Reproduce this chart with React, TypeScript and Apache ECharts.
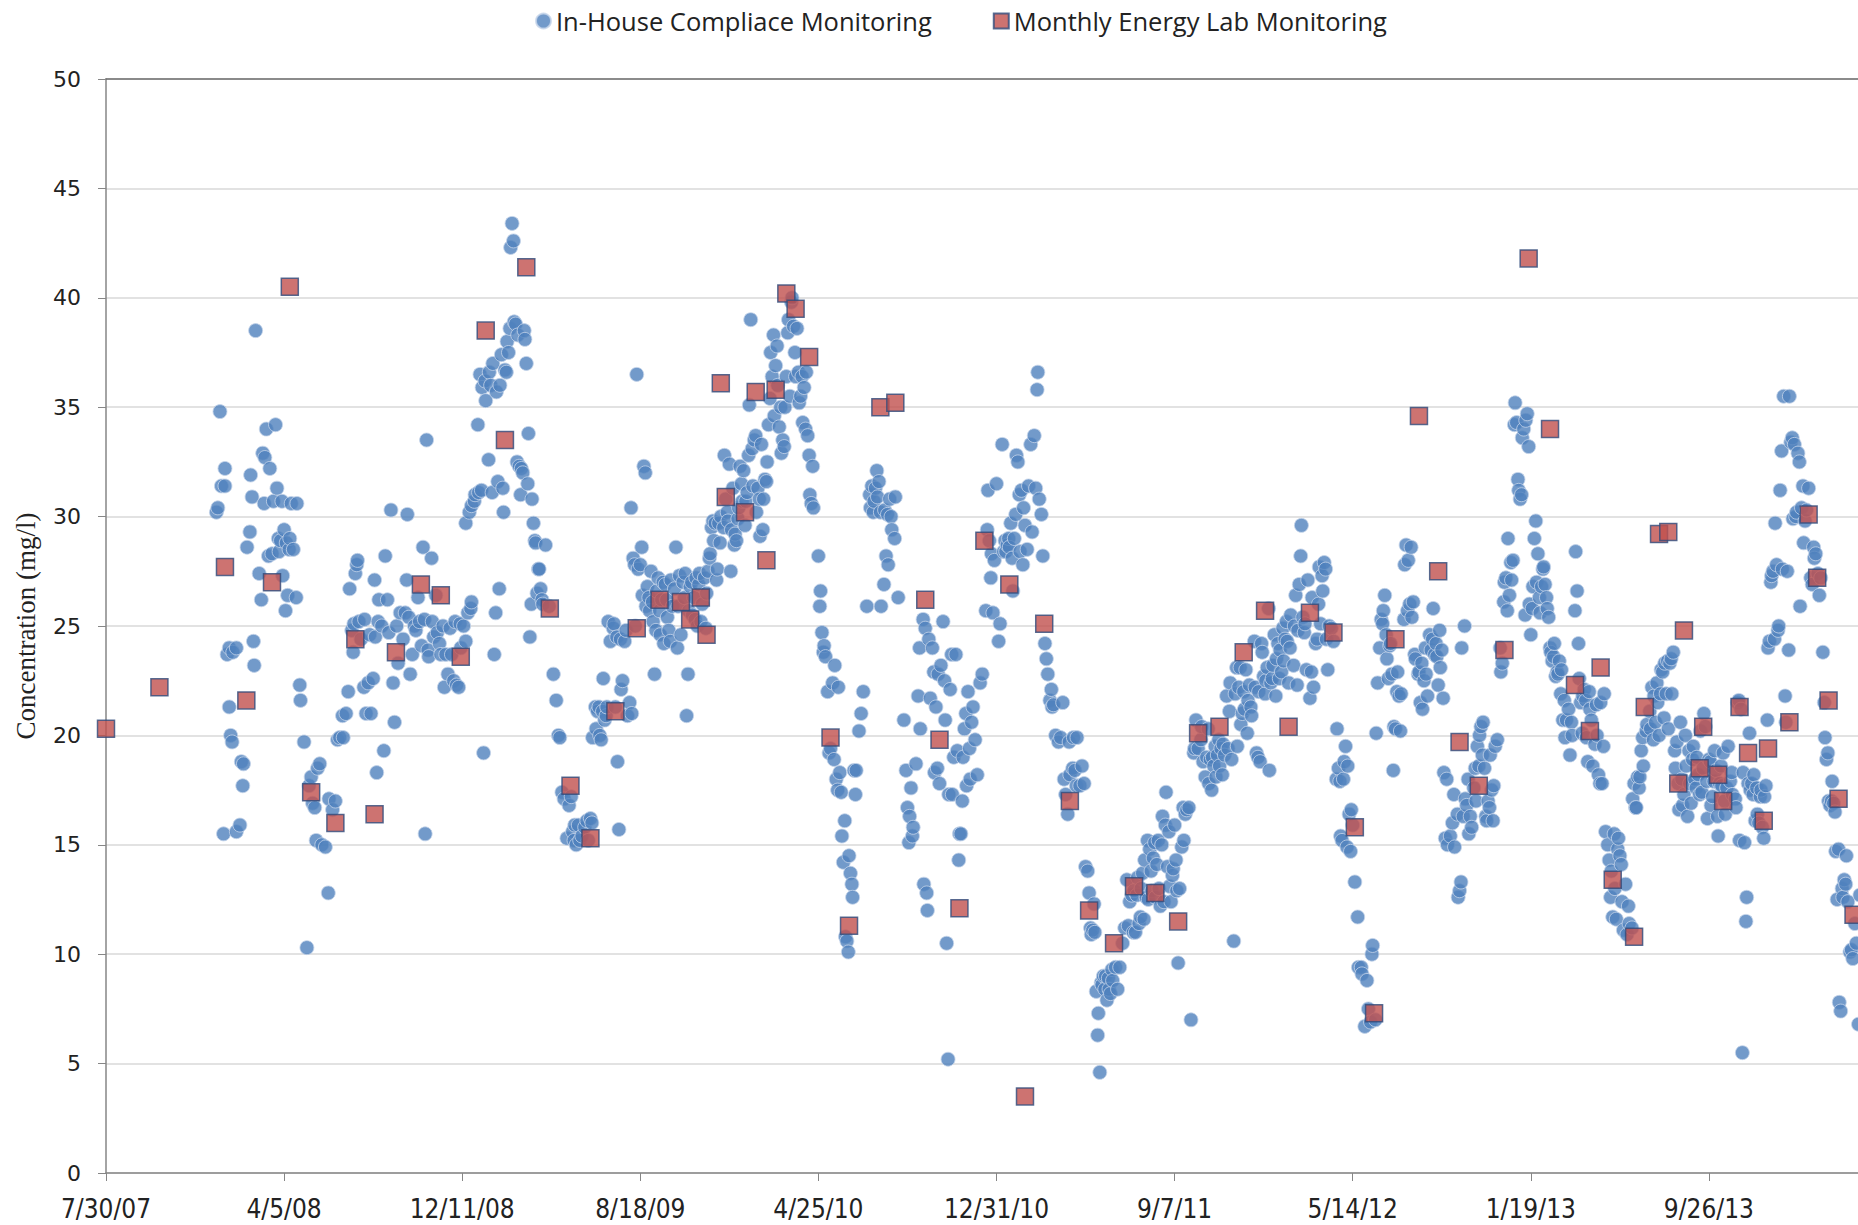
import React, { useEffect, useRef } from "react";
import * as echarts from "echarts";

// x values are days since 7/30/07, y values are concentration (mg/l)
const START_DATE = Date.UTC(2007, 6, 30);
const X_MIN = 0;
const X_MAX = 2500;
const X_STEP = 250;
const Y_MIN = 0;
const Y_MAX = 50;
const Y_STEP = 5;

const seriesNames = ["In-House Compliace Monitoring", "Monthly Energy Lab Monitoring"];

const inHouse2008 = [
  [155,30.2],[157,30.4],[160,34.8],[162,31.4],[167,31.4],[167,32.2],[165,15.5],[170,23.7],[173,24.0],[173,21.3],[175,20.0],[177,19.7],[178,23.8],[183,24.0],[183,15.6],[188,15.9],[190,18.8],[192,17.7],[193,18.7],[198,28.6],[202,29.3],[203,31.9],[205,30.9],[207,24.3],[208,23.2],[210,38.5],[215,27.4],[218,26.2],[220,32.9],[222,30.6],[223,32.7],[225,34.0],[228,28.2],[230,32.2],[233,28.3],[235,30.7],[238,34.2],[240,31.3],[242,29.0],[243,28.4],[245,28.9],[247,30.7],[248,27.3],[250,29.4],[252,25.7],[253,28.8],[255,26.4],[257,28.5],[258,29.0],[260,30.6],[263,28.5],[267,26.3],[268,30.6],
  [272,22.3],[273,21.6],[278,19.7],[282,10.3],[285,17.7],[288,18.1],[290,16.9],[293,16.7],[295,15.2],[297,18.5],[300,18.7],[303,15.0],[308,14.9],[312,12.8],[313,17.1],[318,16.6],[322,17.0],[325,19.8],[328,19.9],[332,20.9],[333,19.9],[337,21.0],[340,22.0],[342,26.7],[345,24.8],[347,23.8],[348,25.1],[350,27.4],[352,27.8],[353,28.0],[355,25.2],[358,24.4],[362,22.2],[363,25.3],[365,21.0],[368,22.4],[370,24.6],[372,21.0],[375,22.6],[377,27.1],[378,24.5],[380,18.3],[382,25.2],[383,26.2],[387,25.0],[390,19.3],[392,28.2],[395,26.2],[397,24.7],[400,30.3],[403,22.4],[405,20.6],[408,25.0],[410,23.3],[413,25.6],[417,24.4],[420,25.6],[422,27.1],[423,30.1],[425,25.4],[427,22.8],[430,23.7],[433,25.0],[435,24.8],[438,26.3],[440,25.2],[443,24.1],[445,28.6],[447,25.3],[448,15.5],[450,33.5],[452,23.9],[453,23.6],[457,28.1],[458,25.2],[460,24.5],[463,26.4],[465,24.7],[468,24.2],[470,23.7],[473,25.0],[475,22.2],[477,23.7],[480,22.8],[483,24.9],[485,23.7],[488,22.5],[490,25.2],[492,22.3],[495,22.2],[497,25.1],[498,24.0],[502,25.0],[505,24.3],[508,25.6],[512,25.8],[513,26.1]
];

const inHouse2009 = [
  [505,29.7],[510,30.2],[513,30.5],[517,30.7],[518,31.0],[522,34.2],[523,31.1],[525,36.5],[527,31.2],[528,35.9],[530,19.2],[532,36.2],[533,35.3],[537,32.6],[538,36.6],[540,36.0],[542,31.1],[543,37.0],[545,23.7],[547,25.6],[548,35.7],[550,31.6],[552,26.7],[553,36.0],[555,37.4],[557,31.3],[558,30.2],[560,36.7],[562,36.6],[563,38.0],[565,37.5],[567,38.6],[568,42.3],[570,43.4],[572,42.6],[573,38.9],[575,38.8],[577,32.5],[578,38.3],[580,32.3],[582,31.0],[583,32.2],[585,32.0],[587,38.5],[588,38.1],[590,37.0],[592,31.5],[593,33.8],[595,24.5],[597,26.0],[598,30.8],[600,29.7],[602,28.9],[603,28.8],[605,26.5],[607,27.6],[608,27.6],[610,26.7],[612,26.2],[613,26.0],[617,28.7],[622,25.9],
  [628,22.8],[632,21.6],[635,20.0],[637,19.9],[640,17.4],[643,17.1],[647,15.3],[650,16.8],[653,17.2],[655,15.6],[657,15.2],[658,15.9],[660,15.0],[663,15.9],[665,15.2],[668,15.4],[672,15.8],[675,16.1],[677,15.2],[680,16.2],[682,16.0],
  [683,19.9],[687,21.3],[688,20.3],[690,21.1],[692,21.3],[693,20.0],[695,19.8],[697,21.1],[698,22.6],[700,20.7],[702,20.9],[703,21.3],[705,25.2],[708,24.3],[712,24.9],[713,25.1],[715,21.3],[717,24.5],[718,18.8],[720,15.7],[722,24.4],[723,22.1],[725,22.5],[728,24.3],[730,24.8],[732,20.9],[735,21.5],[737,30.4],[738,21.0],[740,28.1],[742,27.8],[743,25.0],[745,36.5],[747,27.6],[750,27.8],[752,28.6],[753,26.4],[755,32.3],[757,32.0],[758,25.9],[760,26.8],[762,26.3],[763,25.7],[765,27.5],[767,26.1],[768,25.2],[770,22.8],[772,24.8],[773,26.6],[775,27.2],[777,25.7],[778,24.6],[780,26.2],[782,27.0],[783,24.2],[785,26.9],[787,26.2],[788,25.4],[790,24.8],[792,24.3],[793,27.1],[795,25.9],[798,26.7],[800,28.6],[802,24.0],[803,25.9],[805,27.3],[807,24.6],[810,27.0],[812,26.3],[813,27.4],[815,20.9],[817,22.8],[818,25.7],[820,26.8],[822,27.0],[823,25.5],[825,26.3],[827,25.3],[828,27.2],[830,25.0],[832,26.9],[833,27.4],[835,25.2],[837,26.0],[840,27.2],[842,24.9],[843,26.5],[845,27.5],[847,28.1],[848,28.3]
];

const inHouse2010 = [
  [850,29.5],[852,29.8],[853,28.9],[855,29.7],[857,27.1],[858,27.6],[860,29.7],[862,28.8],[863,30.0],[867,29.5],[868,32.8],[870,30.8],[872,30.2],[873,29.8],[875,32.4],[877,27.5],[878,29.4],[880,31.3],[882,28.7],[883,29.2],[885,28.9],[887,29.9],[888,30.4],[890,32.3],[892,31.5],[893,30.7],[895,32.1],[897,29.6],[898,30.7],[900,31.1],[902,32.8],[903,35.1],[905,39.0],[907,33.1],[908,31.4],[910,33.5],[912,33.7],[913,30.2],[915,31.3],[917,30.8],[918,29.1],[920,33.3],[922,29.4],[923,30.8],[925,31.7],[927,31.6],[928,32.5],[930,34.2],[932,35.4],[933,37.5],[935,36.4],[937,38.3],[938,34.6],[940,36.9],[942,37.8],[943,36.0],[945,34.1],[947,35.0],[948,32.9],[950,33.5],[952,33.2],[953,35.0],[955,36.4],[957,38.4],[958,39.0],[960,35.5],[962,39.8],[963,40.0],[965,38.7],[967,37.5],[968,36.4],[970,38.6],[972,36.6],[973,35.2],[975,35.5],[977,36.4],[978,34.3],[980,35.9],[982,34.0],[983,36.6],[985,33.7],[987,32.8],[988,31.0],[990,30.6],[992,32.3],[993,30.4],
  [1000,28.2],[1002,25.9],[1003,26.6],[1005,24.7],[1007,23.8],[1008,24.1],[1010,23.6],[1013,22.0],[1015,19.2],[1017,19.4],[1020,22.4],[1022,18.9],[1023,23.2],[1025,18.0],[1027,17.5],[1028,22.2],[1030,18.3],[1032,17.4],[1033,15.4],[1035,14.2],[1037,16.1],[1038,10.8],[1040,10.6],[1042,10.1],[1043,14.5],[1045,13.7],[1047,13.2],[1048,12.6],[1050,18.4],[1052,17.3],[1053,18.4],[1057,20.2],[1060,21.0],[1063,22.0],
  [1068,25.9],[1072,31.0],[1073,30.4],[1075,31.4],[1077,30.2],[1078,30.7],[1080,31.3],[1082,32.1],[1083,30.9],[1085,31.6],[1087,30.2],[1088,25.9],[1092,26.9],[1093,30.3],[1095,28.2],[1097,30.1],[1098,27.8],[1100,30.8],[1102,30.0],[1103,29.4],[1107,29.0],[1108,30.9],[1112,26.3]
];

const inHouse2011 = [
  [1120,20.7],[1123,18.4],[1125,16.7],[1127,15.1],[1128,16.3],[1130,17.6],[1132,15.4],[1133,15.8],[1137,18.7],[1140,21.8],[1142,24.0],[1143,20.3],[1147,25.3],[1148,13.2],[1150,24.9],[1152,12.8],[1153,12.0],[1155,24.4],[1157,21.7],[1160,24.0],[1162,22.9],[1163,18.3],[1165,21.3],[1167,18.5],[1168,22.8],[1170,17.8],[1172,23.2],[1175,25.2],[1177,22.5],[1178,20.7],[1180,10.5],[1182,5.2],[1183,17.3],[1185,22.1],[1187,23.7],[1188,17.3],[1190,19.0],[1193,23.7],[1195,19.3],[1197,14.3],[1198,15.5],[1200,15.5],[1202,17.0],[1203,19.0],[1205,20.3],[1207,21.0],[1208,17.7],[1210,22.0],[1212,19.4],[1213,18.0],[1215,20.6],[1217,21.3],[1220,19.8],[1223,18.2],[1227,22.4],[1230,22.8],
  [1235,25.7],[1237,29.4],[1238,31.2],[1240,28.9],[1242,27.2],[1243,28.3],[1245,25.6],[1247,28.0],[1250,31.5],[1253,24.3],[1255,25.1],[1258,33.3],[1260,28.4],[1262,28.9],[1263,28.4],[1265,28.7],[1267,29.0],[1268,28.6],[1270,29.7],[1272,28.1],[1273,26.6],[1275,29.0],[1277,30.1],[1278,32.8],[1280,32.5],[1282,31.0],[1283,28.4],[1285,31.2],[1287,27.8],[1288,30.4],[1290,29.6],[1293,28.5],[1295,31.4],[1298,33.3],[1300,29.3],[1303,33.7],[1305,31.3],[1307,35.8],[1308,36.6],[1310,30.8],[1313,30.1],[1315,28.2],
  [1318,24.2],[1320,23.5],[1322,22.8],[1325,21.6],[1327,22.1],[1328,21.3],[1330,21.4],[1333,20.0],[1337,19.7],[1340,19.9],[1343,21.5],[1345,18.0],[1347,17.3],[1350,16.4],[1352,19.7],[1353,18.2],[1357,18.5],[1358,19.9],[1360,18.4],[1362,17.7],[1363,19.9],[1367,17.7],[1370,18.6],[1373,17.8],[1375,14.0],[1378,13.8],[1380,12.8],[1382,11.2],[1383,10.9],[1385,11.1],[1387,12.3],[1388,11.0],[1390,8.3],[1392,6.3],[1393,7.3],[1395,4.6],[1397,8.7],[1398,8.6],[1400,9.0],[1402,8.4],[1403,9.0],[1405,7.9],[1407,8.9],[1408,8.4],[1410,8.2],[1412,9.3],[1413,8.8],[1417,9.4],[1420,8.4],[1423,9.4],[1427,10.5],[1430,11.2],
  [1433,13.4],[1435,11.3],[1437,12.4],[1440,12.7],[1442,11.0],[1443,12.9],[1445,11.0],[1447,12.7],[1448,13.5],[1450,11.4],[1452,11.7],[1453,13.0],[1455,13.7],[1457,11.6],[1458,14.3],[1460,12.6],[1462,15.2],[1463,12.5],[1465,14.8],[1467,13.8],[1468,12.9],[1470,14.4],[1472,15.1],[1473,12.6],[1475,14.1],[1477,15.2],[1478,13.0],[1480,12.2],[1482,15.0],[1483,16.3],[1485,12.4],[1487,15.9],[1488,17.4],[1490,14.0],[1492,15.6],[1493,13.1],[1495,12.4],[1497,13.6],[1498,13.9],[1500,15.9],[1502,14.3],[1503,12.9],[1505,9.6],[1507,13.0],[1510,14.9],[1512,16.7],[1513,15.2],[1515,16.4],[1517,16.6],[1520,16.7],[1523,7.0],[1527,19.2],[1528,19.4],[1530,20.7],[1533,19.4]
];

const inHouse2012 = [
  [1537,19.8],[1538,20.4],[1540,18.8],[1543,18.1],[1545,19.0],[1547,20.3],[1548,17.8],[1550,18.9],[1552,17.5],[1553,19.0],[1555,18.6],[1557,19.5],[1558,18.1],[1560,19.1],[1562,19.8],[1563,18.6],[1565,19.4],[1567,18.2],[1568,19.6],[1570,19.1],[1573,21.8],[1575,19.4],[1577,21.1],[1578,22.4],[1580,18.9],[1583,10.6],[1585,21.9],[1587,23.1],[1588,19.5],[1590,22.2],[1592,23.1],[1593,20.5],[1595,21.0],[1597,22.0],[1598,21.2],[1600,23.0],[1602,20.1],[1603,21.6],[1605,22.3],[1607,21.3],[1608,20.9],[1612,24.3],[1613,22.2],[1615,19.2],[1617,19.0],[1618,22.0],[1620,18.8],[1622,24.2],[1623,23.8],[1625,22.7],[1627,21.9],[1628,22.5],[1630,23.1],[1632,25.8],[1633,18.4],[1635,22.4],[1637,22.6],[1638,23.2],[1640,24.6],[1642,21.8],[1643,23.5],[1645,24.2],[1647,22.6],[1648,23.9],[1650,22.9],[1652,24.9],[1653,23.4],[1655,24.4],[1657,25.2],[1658,24.3],[1660,22.4],[1662,24.0],[1663,25.5],[1667,23.2],[1668,25.0],[1670,26.4],[1672,22.3],[1673,24.8],[1675,26.9],[1677,28.2],[1678,29.6],[1680,25.4],[1682,24.7],[1683,25.1],
  [1685,23.0],[1687,27.1],[1690,21.7],[1692,22.9],[1693,26.3],[1695,22.2],[1698,24.2],[1700,24.4],[1702,26.0],[1703,27.7],[1705,25.1],[1707,27.3],[1708,26.6],[1710,27.9],[1712,27.6],[1713,24.4],[1715,23.0],[1717,25.0],[1720,24.9],[1723,24.3],[1727,18.0],[1728,20.3],[1730,18.5],[1732,17.9],[1733,15.4],[1735,15.2],[1737,18.0],[1738,18.8],[1740,19.5],[1742,14.9],[1743,18.6],[1745,16.4],[1747,14.7],[1748,16.6],[1750,15.9],[1753,13.3],[1757,11.7],[1758,9.4],[1762,9.4],[1763,9.1],[1767,6.7],[1770,8.8],[1772,7.5],[1775,6.9],[1777,10.0],[1778,10.4],[1782,7.0],
  [1783,20.1],[1785,22.4],[1788,24.0],[1790,25.3],[1792,25.1],[1793,25.7],[1795,26.4],[1797,24.6],[1798,23.5],[1800,22.6],[1802,24.1],[1803,24.2],[1805,22.8],[1807,18.4],[1808,20.4],[1810,20.3],[1812,22.0],[1813,22.9],[1815,21.8],[1817,20.2],[1818,21.9],[1822,25.3],[1823,27.8],[1825,28.7],[1827,25.7],[1828,28.0],[1830,26.0],[1832,28.6],[1833,25.4],[1835,26.1],[1837,23.7],[1838,23.5],[1842,22.8],[1843,22.9],[1845,21.5],[1847,23.3],[1848,21.2],[1850,22.5],[1852,24.0],[1853,22.8],[1855,21.8],[1858,24.6],[1860,23.9],[1862,24.4],[1863,25.8],[1865,23.7],[1867,24.2],[1868,23.6],[1870,22.3],[1872,24.8],[1873,23.1],[1875,23.9],[1877,21.7],
  [1878,18.3],[1880,15.3],[1882,18.0],[1883,15.0],[1887,15.4],[1890,16.0],[1892,17.3],[1893,14.9],[1897,16.4],[1898,12.6],[1900,12.9],[1902,13.3],[1903,24.0],[1905,16.3],[1907,25.0],[1908,17.1],[1910,16.8],[1912,18.0],[1913,15.5],[1915,16.3],[1917,15.8],[1920,17.6],[1922,18.5],[1923,17.0],[1925,19.5],[1927,18.6],[1928,20.0],[1930,20.4],[1932,19.1],[1933,20.6],[1935,18.5],[1937,16.3],[1938,16.1],[1940,17.0],[1942,16.7],[1943,19.1],[1945,17.5],[1947,16.1],[1948,17.7],[1950,19.5],[1953,19.8],[1957,24.0]
];

const inHouse2013 = [
  [1958,22.9],[1960,23.3],[1962,26.1],[1963,27.0],[1965,27.2],[1967,25.7],[1968,29.0],[1970,26.4],[1972,27.9],[1973,27.1],[1975,28.0],[1977,34.2],[1978,35.2],[1980,34.3],[1982,31.7],[1983,31.2],[1985,30.8],[1987,31.0],[1988,33.6],[1990,34.0],[1992,25.5],[1993,34.4],[1995,34.7],[1997,33.2],[1998,26.0],[2000,24.6],[2002,25.8],[2003,26.8],[2005,29.0],[2007,29.8],[2008,27.0],[2010,28.3],[2012,26.3],[2013,25.6],[2015,26.8],[2017,27.6],[2018,27.7],[2020,26.9],[2022,26.3],[2023,25.8],[2025,25.4],[2027,24.0],[2028,23.8],[2030,23.4],[2032,23.6],[2033,24.2],[2035,22.7],[2037,22.9],[2038,22.8],[2040,23.4],[2042,21.9],[2043,23.0],[2045,20.7],[2047,21.6],[2048,19.9],[2050,20.7],
  [2053,21.2],[2055,19.1],[2057,20.6],[2058,20.0],[2062,25.7],[2063,28.4],[2065,26.6],[2067,24.2],[2068,22.6],[2070,21.5],[2072,20.1],[2073,21.8],[2075,22.1],[2077,21.6],[2078,19.9],[2080,18.8],[2082,22.0],[2083,21.2],[2085,20.7],[2087,18.6],[2090,19.6],[2092,21.4],[2093,20.0],[2095,18.2],[2097,17.8],[2098,21.5],[2100,17.8],[2102,19.5],[2103,21.9],[2105,15.6],[2108,15.0],[2110,14.3],[2112,12.6],[2113,13.8],[2115,11.7],[2117,15.5],[2118,13.0],[2120,11.6],[2122,14.8],[2123,15.3],[2125,14.5],[2127,14.1],[2128,12.4],[2130,11.1],[2133,13.2],[2135,10.9],[2137,12.2],[2138,11.4],[2142,11.2],[2143,17.1],[2145,17.8],[2147,16.7],[2148,16.7],[2150,18.1],[2152,17.6],[2153,18.1],[2155,19.3],[2157,19.9],[2158,18.6],
  [2162,20.2],[2163,20.5],[2167,21.1],[2168,20.3],[2170,22.2],[2172,19.8],[2173,21.8],[2175,20.6],[2177,22.4],[2178,21.5],[2180,20.0],[2182,21.9],[2183,23.0],[2185,22.9],[2187,20.8],[2188,23.3],[2190,21.9],[2192,23.4],[2193,20.3],[2195,23.3],[2197,23.5],[2198,21.9],[2200,23.8],[2202,19.3],[2203,18.5],[2205,19.7],[2207,17.8],[2208,16.6],[2210,20.6],[2212,18.0],[2213,16.8],[2215,17.3],[2217,20.0],[2218,18.6],[2220,16.3],[2222,19.3],[2223,17.8],[2225,16.9],[2227,18.9],[2228,19.5],[2230,18.0],[2232,17.6],[2233,19.0],[2235,18.2],[2237,17.3],[2238,20.2],[2240,17.4],[2242,18.5],[2243,21.0],[2245,20.4],[2247,17.9],[2248,16.2],[2250,18.9],[2252,18.8],[2253,16.8],[2255,17.2],[2257,17.9],[2258,19.3],[2260,18.4],[2262,16.3],[2263,15.4],[2265,17.8],[2267,18.6],[2268,17.7],[2270,19.2],[2272,17.0],[2273,16.4],[2275,17.6],[2277,19.5],[2280,17.9],[2282,18.3],[2283,17.3]
];

const inHouse2014 = [
  [2287,17.1],[2288,16.7],[2290,21.5],[2292,21.6],[2293,15.2],[2295,21.2],[2297,5.5],[2298,18.3],[2300,15.1],[2302,11.5],[2303,12.6],[2305,17.8],[2307,20.1],[2308,17.5],[2310,17.8],[2312,17.3],[2313,18.2],[2315,16.1],[2317,17.6],[2318,16.4],[2320,16.0],[2322,17.2],[2323,17.5],[2325,15.8],[2327,15.3],[2328,17.2],[2330,17.7],[2332,20.7],[2333,24.0],[2335,24.3],[2337,27.0],[2338,27.3],[2340,27.5],[2342,24.4],[2343,29.7],[2345,27.8],[2347,24.8],[2348,25.0],
  [2350,31.2],[2352,33.0],[2353,27.6],[2355,35.5],[2357,21.8],[2358,20.6],[2360,27.5],[2362,23.9],[2363,35.5],[2365,33.4],[2367,33.6],[2368,29.9],[2370,33.3],[2372,30.0],[2373,30.2],[2375,32.9],[2377,32.5],[2378,25.9],[2380,30.4],[2382,31.4],[2383,28.8],[2385,29.8],[2387,30.3],[2390,31.3],[2393,27.2],[2395,26.9],[2397,28.6],[2398,28.1],[2400,28.3],[2403,27.4],[2405,26.4],[2407,27.2],[2410,23.8],[2412,21.5],[2413,19.9],[2415,18.9],[2417,19.2],[2418,17.0],[2420,16.8],[2422,17.0],[2423,17.9],[2425,16.9],[2427,16.5],[2428,14.7],[2430,12.5],[2432,14.8],[2433,7.8],[2435,7.4],[2437,13.0],[2438,12.6],[2440,13.4],[2442,13.2],[2443,14.5],[2445,12.4],[2448,10.1],[2450,10.2],[2452,9.8],[2455,11.4],[2457,10.5],[2460,6.8],[2462,12.7]
];

const labMonthly = [
  [0,20.3],[75,22.2],[167,27.7],[197,21.6],[233,27.0],[258,40.5],[288,17.4],[322,16.0],[350,24.4],[377,16.4],[407,23.8],[442,26.9],[470,26.4],[498,23.6],[533,38.5],[560,33.5],[590,41.4],[623,25.8],[652,17.7],[680,15.3],[715,21.1],[745,24.9],[777,26.2],[807,26.1],[820,25.3],[835,26.3],[843,24.6],[863,36.1],[870,30.9],[897,30.2],[912,35.7],[927,28.0],[940,35.8],[955,40.2],[968,39.5],[987,37.3],[1017,19.9],[1043,11.3],[1087,35.0],[1108,35.2],[1150,26.2],[1170,19.8],[1198,12.1],[1233,28.9],[1268,26.9],[1290,3.5],[1317,25.1],[1353,17.0],[1380,12.0],[1415,10.5],[1443,13.1],[1473,12.8],[1505,11.5],[1533,20.1],[1563,20.4],[1597,23.8],[1627,25.7],[1660,20.4],[1690,25.6],[1723,24.7],[1753,15.8],[1780,7.3],[1810,24.4],[1843,34.6],[1870,27.5],[1900,19.7],[1927,17.7],[1963,23.9],[1997,41.8],[2027,34.0],[2062,22.3],[2083,20.2],[2098,23.1],[2115,13.4],[2145,10.8],[2160,21.3],[2180,29.2],[2193,29.3],[2207,17.8],[2215,24.8],[2237,18.5],[2242,20.4],[2263,18.2],[2270,17.0],[2293,21.3],[2305,19.2],[2327,16.1],[2333,19.4],[2363,20.6],[2390,30.1],[2402,27.2],[2418,21.6],[2432,17.1],[2453,11.8]
];

function formatDay(v: number): string {
  const d = new Date(START_DATE + v * 86400000);
  return `${d.getUTCMonth() + 1}/${d.getUTCDate()}/${String(d.getUTCFullYear()).slice(2)}`;
}

export default function App() {
  const ref = useRef<HTMLDivElement>(null);
  useEffect(() => {
    if (!ref.current) return;
    const chart = echarts.init(ref.current, undefined, { renderer: "svg" });
    const inHouse = [
      ...inHouse2008, ...inHouse2009, ...inHouse2010, ...inHouse2011,
      ...inHouse2012, ...inHouse2013, ...inHouse2014,
    ];
    chart.setOption({
      animation: false,
      backgroundColor: "#ffffff",
      grid: {
        left: 106,
        right: -29,
        top: 79,
        bottom: 52,
        containLabel: false,
        outerBoundsMode: "none",
      },
      legend: {
        left: 530,
        top: 3,
        itemWidth: 15,
        itemHeight: 15,
        itemGap: 61,
        textStyle: { fontFamily: "'Open Sans'", fontSize: 25.5, color: "#222222" },
        data: [
          { name: seriesNames[0], icon: "circle" },
          { name: seriesNames[1], icon: "rect" },
        ],
      },
      xAxis: [
        {
          type: "value",
          min: X_MIN,
          max: X_MAX,
          interval: X_STEP,
          axisLine: { show: true, lineStyle: { color: "#868686", width: 1.5 } },
          axisTick: { show: true, length: 8, lineStyle: { color: "#868686" } },
          splitLine: { show: false },
          axisLabel: {
            formatter: (v: number) => formatDay(v),
            showMaxLabel: false,
            margin: 23,
            fontFamily: "'Liberation Sans Narrow', 'DejaVu Sans Condensed', 'Liberation Sans'",
            fontSize: 26,
            color: "#222222",
          },
        },
        {
          type: "value",
          position: "top",
          min: X_MIN,
          max: X_MAX,
          interval: X_STEP,
          axisLine: { show: true, lineStyle: { color: "#6E6E6E", width: 1.5 } },
          axisTick: { show: false },
          axisLabel: { show: false },
          splitLine: { show: false },
        },
      ],
      yAxis: {
        type: "value",
        min: Y_MIN,
        max: Y_MAX,
        interval: Y_STEP,
        name: "Concentration (mg/l)",
        nameLocation: "middle",
        nameGap: 67,
        nameRotate: 90,
        nameTextStyle: { fontFamily: "'Liberation Serif'", fontSize: 27, color: "#222222" },
        axisLine: { show: true, lineStyle: { color: "#868686", width: 1.5 } },
        axisTick: { show: true, length: 8, lineStyle: { color: "#868686" } },
        splitLine: { show: true, lineStyle: { color: "#D9D9D9", width: 1.5 } },
        axisLabel: {
          margin: 25,
          fontFamily: "'DejaVu Sans'",
          fontSize: 22,
          color: "#222222",
        },
      },
      series: [
        {
          name: seriesNames[0],
          type: "scatter",
          data: inHouse,
          symbol: "circle",
          symbolSize: 14,
          clip: false,
          z: 2,
          itemStyle: { color: "#4F81BD", borderColor: "#C5D5EA", borderWidth: 1 },
        },
        {
          name: seriesNames[1],
          type: "scatter",
          data: labMonthly,
          symbol: "rect",
          symbolSize: 17,
          clip: false,
          z: 3,
          itemStyle: { color: "#C0504D", borderColor: "#2F4B7C", borderWidth: 1.5 },
        },
      ],
    });
    return () => chart.dispose();
  }, []);
  return (
    <div
      ref={ref}
      style={{ position: "fixed", left: 0, top: 0, width: 1858, height: 1225, background: "#fff" }}
    />
  );
}
